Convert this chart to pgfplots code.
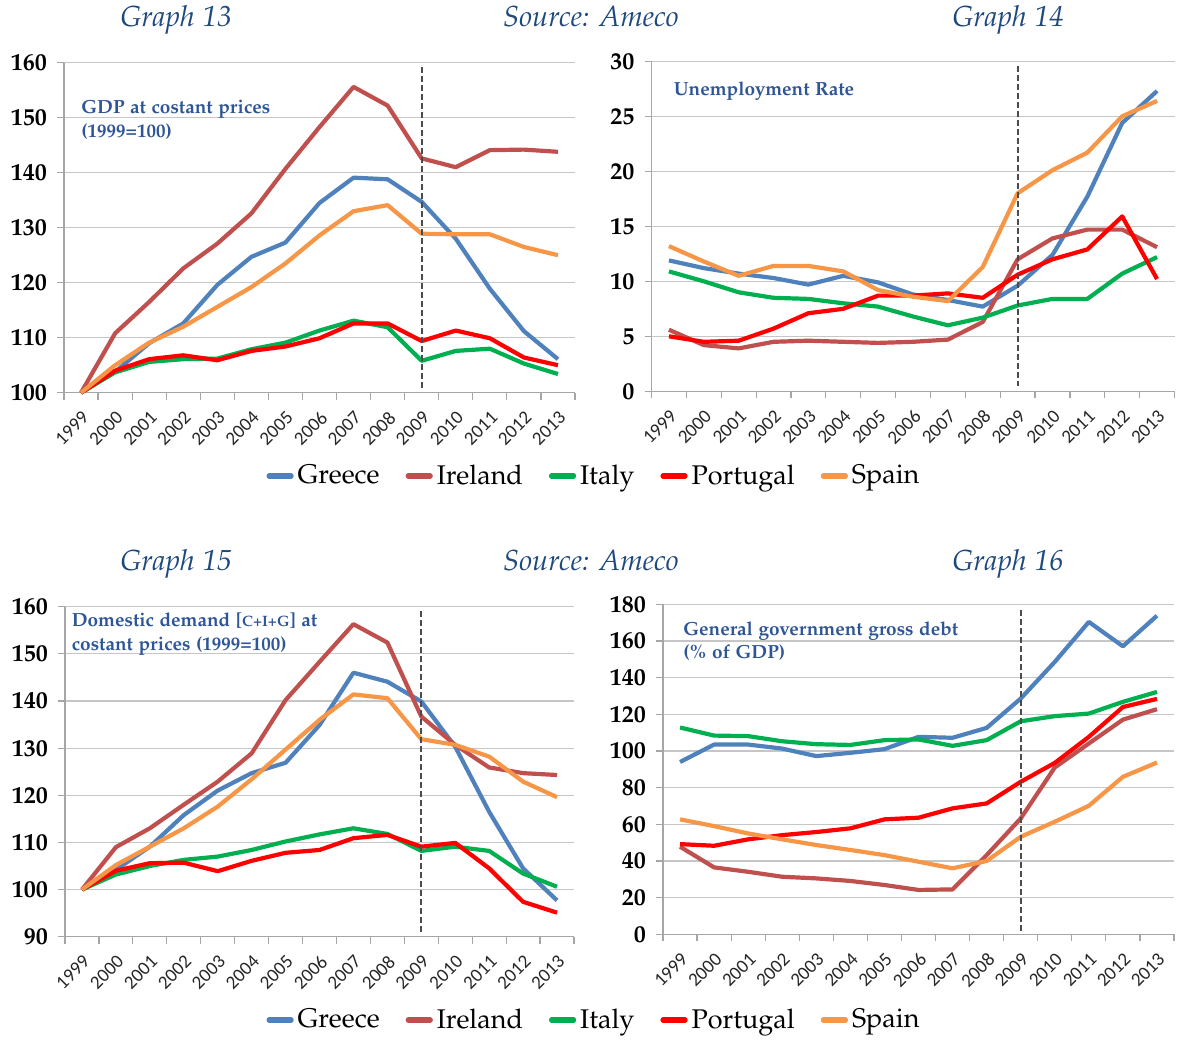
\documentclass[border=0pt]{standalone}
\usepackage[T1]{fontenc}
\usepackage{fontspec}
\usepackage{pgfplots}
\usepackage{pgfplotstable}
\pgfplotsset{compat=1.18}

\newfontfamily\carlito{Carlito}
\newcommand{\pal}{\fontencoding{T1}\fontfamily{pplx}\selectfont}

\definecolor{gr}{HTML}{4F81BD}
\definecolor{ir}{HTML}{C0504D}
\definecolor{it}{HTML}{00B050}
\definecolor{pt}{HTML}{FF0000}
\definecolor{sp}{HTML}{F79646}
\definecolor{ttl}{HTML}{1F497D}
\definecolor{lbl}{HTML}{2E5597}

% GDP at constant prices (1999=100)
\pgfplotstableread{
i  gr     ir     it     pt     sp
0  100    100    100    100    100
1  103.8  110.8  103.7  104.0  105.0
2  109.0  116.5  105.6  106.1  109.1
3  112.6  122.6  106.1  106.8  112.0
4  119.6  127.1  106.2  105.9  115.6
5  124.7  132.6  107.9  107.6  119.2
6  127.3  140.7  109.1  108.4  123.5
7  134.5  148.3  111.3  109.9  128.6
8  139.1  155.6  113.1  112.6  133.0
9  138.8  152.2  111.9  112.6  134.1
10 134.7  142.6  105.8  109.4  128.9
11 128.0  141.0  107.6  111.3  128.8
12 118.9  144.1  108.0  109.9  128.8
13 111.2  144.2  105.3  106.4  126.5
14 106.1  143.8  103.4  105.0  125.0
}\gdp

% unemployment rate
\pgfplotstableread{
i  gr    ir    it    pt    sp
0  11.9  5.6   10.9  5.0   13.2
1  11.2  4.2   10.0  4.5   11.8
2  10.7  3.9   9.0   4.6   10.5
3  10.3  4.5   8.5   5.7   11.4
4  9.7   4.6   8.4   7.1   11.4
5  10.5  4.5   8.0   7.5   10.9
6  9.9   4.4   7.7   8.7   9.2
7  8.8   4.5   6.8   8.7   8.6
8  8.3   4.7   6.0   8.9   8.2
9  7.7   6.3   6.7   8.5   11.3
10 9.6   12.0  7.8   10.6  18.0
11 12.4  13.9  8.4   12.0  20.1
12 17.7  14.7  8.4   12.9  21.7
13 24.4  14.7  10.7  15.9  25.0
14 27.3  13.1  12.2  10.2  26.4
}\unemp

% domestic demand (1999=100)
\pgfplotstableread{
i  gr     ir     it     pt     sp
0  100    100    100    100    100
1  104.2  109.0  103.2  104.0  105.2
2  109.1  113.0  105.0  105.6  109.1
3  115.8  118.0  106.3  105.7  113.0
4  121.0  122.9  107.0  103.9  117.6
5  124.7  128.9  108.4  106.1  123.4
6  126.9  140.2  110.2  107.8  129.7
7  134.9  148.3  111.7  108.4  136.0
8  146.0  156.3  113.0  110.9  141.4
9  144.1  152.4  111.8  111.6  140.6
10 139.9  136.7  108.2  109.1  131.9
11 130.3  130.7  109.1  109.9  130.7
12 116.5  125.9  108.2  104.5  128.2
13 104.5  124.7  103.4  97.4   122.9
14 97.7   124.3  100.6  95.1   119.6
}\ddem

% general government gross debt (% of GDP)
\pgfplotstableread{
i  gr     ir     it     pt     sp
0  94.0   47.8   112.8  49.2   62.7
1  103.5  36.5   108.4  48.3   59.0
2  103.5  34.1   108.1  51.8   55.0
3  101.3  31.4   105.3  54.1   51.8
4  97.2   30.5   103.7  55.8   48.7
5  99.0   29.1   103.3  57.8   46.0
6  101.0  26.9   105.9  62.7   43.2
7  107.7  24.2   106.3  63.6   39.6
8  107.2  24.5   102.8  68.7   36.0
9  112.6  43.2   105.9  71.4   40.0
10 128.6  63.2   116.2  83.2   53.2
11 148.6  91.0   119.0  93.5   61.4
12 170.4  104.1  120.4  107.7  70.1
13 157.1  117.1  126.8  124.0  85.9
14 173.8  122.8  132.2  128.4  93.7
}\debt

\pgfplotsset{
  panel/.style={
    scale only axis, height=165pt, clip=false,
    xmin=-0.5, xmax=14.5,
    xtick={0,...,14},
    xticklabels={1999,2000,2001,2002,2003,2004,2005,2006,2007,2008,2009,2010,2011,2012,2013},
    minor xtick={-0.5,0.5,...,14.5},
    tick align=outside,
    major tick length=3.5pt, minor tick length=3.5pt,
    axis x line*=bottom, axis y line*=left,
    axis line style={draw=gray!70, line width=0.6pt},
    tick style={draw=gray!70, line width=0.6pt},
    major x tick style={draw=none},
    ymajorgrids, grid style={gray!45, line width=0.6pt},
    xticklabel style={yshift=-5pt, rotate=45, anchor=north east, inner sep=0pt,
      font=\carlito\fontsize{9.5}{11}\selectfont, text=black!85},
    yticklabel style={font=\pal\fontsize{12}{14}\selectfont\bfseries, xshift=-1.5pt},
    /pgf/number format/assume math mode=true,
    every axis plot/.append style={line width=2.1pt, line join=round},
    legend image code/.code={\draw[##1, line width=2.6pt, line cap=round] (0pt,0pt) -- (11pt,0pt);},
  },
  leg/.style={
    legend columns=5,
    legend style={draw=none, fill=none, anchor=center, at={#1},
      font=\pal\fontsize{13.5}{16}\selectfont,
      /tikz/every even column/.append style={column sep=11pt}},
  },
}

\newcommand{\series}[1]{%
  \addplot[gr] table[x=i, y=gr] {#1};
  \addplot[ir] table[x=i, y=ir] {#1};
  \addplot[it] table[x=i, y=it] {#1};
  \addplot[pt] table[x=i, y=pt] {#1};
  \addplot[sp] table[x=i, y=sp] {#1};
}

\begin{document}
\begin{tikzpicture}
\path[use as bounding box] (0pt,0pt) rectangle (588.5pt,-519.5pt);

\tikzset{ttlstyle/.style={font=\pal\fontsize{14.5}{17}\selectfont\itshape, text=ttl, anchor=base}}
\tikzset{lblstyle/.style={font=\pal\fontsize{9.5}{12}\selectfont\bfseries, text=lbl, anchor=base west, inner sep=0pt}}
\tikzset{vline/.style={gray!60!black, dash pattern=on 3pt off 1.5pt, line width=1.1pt}}

\node[ttlstyle] at (88pt,-13pt) {Graph 13};
\node[ttlstyle] at (295.5pt,-13pt) {Source: Ameco};
\node[ttlstyle] at (504pt,-13pt) {Graph 14};
\node[ttlstyle] at (88pt,-285pt) {Graph 15};
\node[ttlstyle] at (295.5pt,-285pt) {Source: Ameco};
\node[ttlstyle] at (504pt,-285pt) {Graph 16};

% Graph 13
\begin{axis}[panel, leg={(1.0391,-0.2521)}, at={(32pt,-196.35pt)}, anchor=south west,
  width=255.5pt, ymin=100, ymax=160, ytick={100,110,...,160}]
  \series{\gdp}
  \legend{Greece,Ireland,Italy,Portugal,Spain}
  \draw[vline] (axis cs:10,159.2) -- (axis cs:10,100.8);
\end{axis}

% Graph 14
\begin{axis}[panel, at={(325.75pt,-195.65pt)}, anchor=south west,
  width=261.5pt, ymin=0, ymax=30, ytick={0,5,...,30}]
  \series{\unemp}
  \draw[vline] (axis cs:10,29.6) -- (axis cs:10,0.5);
\end{axis}

% Graph 15
\begin{axis}[panel, leg={(1.0413,-0.2524)}, at={(32.5pt,-468.35pt)}, anchor=south west,
  width=254.5pt, ymin=90, ymax=160, ytick={90,100,...,160}]
  \series{\ddem}
  \legend{Greece,Ireland,Italy,Portugal,Spain}
  \draw[vline] (axis cs:10,159.0) -- (axis cs:10,90.8);
\end{axis}

% Graph 16
\begin{axis}[panel, at={(331.5pt,-467.15pt)}, anchor=south west,
  width=255.5pt, ymin=0, ymax=180, ytick={0,20,...,180}]
  \series{\debt}
  \draw[vline] (axis cs:10,177) -- (axis cs:10,1);
\end{axis}

\node[lblstyle] at (40.5pt,-56.5pt) {GDP at costant prices};
\node[lblstyle] at (40.5pt,-68.5pt) {(1999=100)};
\node[lblstyle] at (336.75pt,-47.5pt) {Unemployment Rate};
\node[lblstyle] at (35.7pt,-313pt) {Domestic demand [{\fontsize{7.5}{9}\selectfont C+I+G}] at};
\node[lblstyle] at (35.7pt,-325pt) {costant prices (1999=100)};
\node[lblstyle] at (341.5pt,-317.5pt) {General government gross debt};
\node[lblstyle] at (341.5pt,-329pt) {(\% of GDP)};
\end{tikzpicture}
\end{document}
